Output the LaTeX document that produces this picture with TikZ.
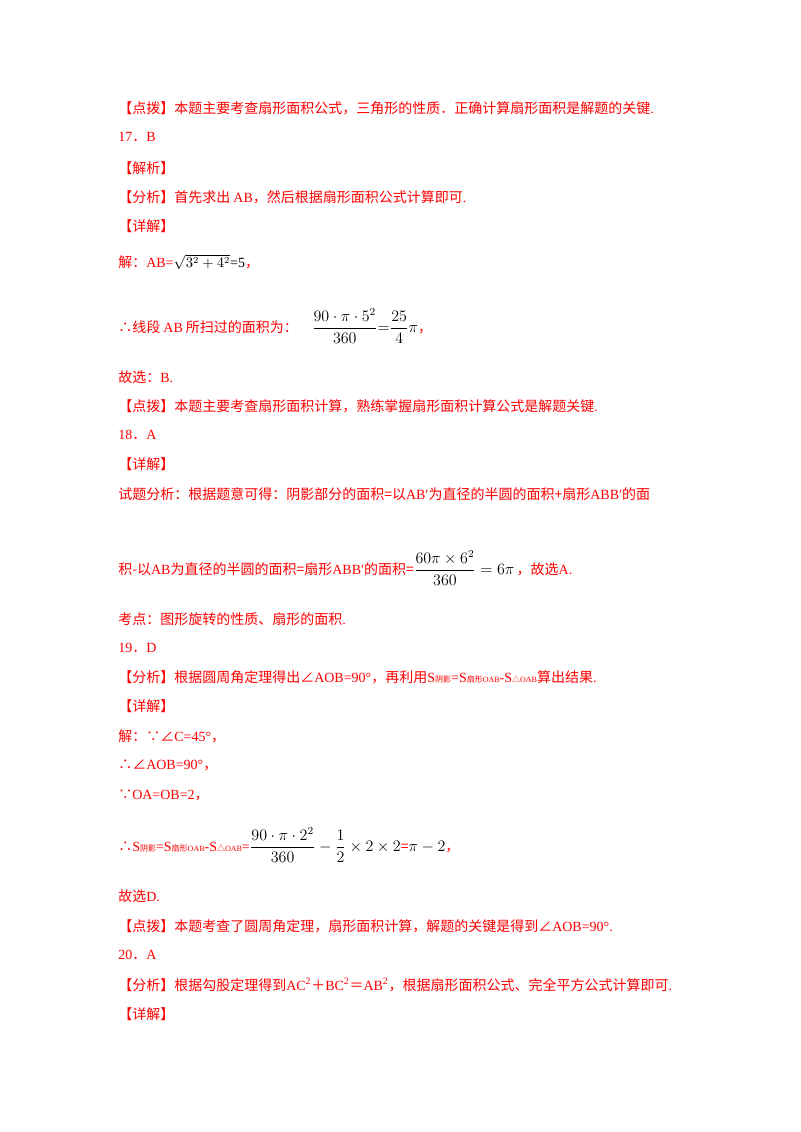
\documentclass[tikz,border=0pt]{standalone}
\usepackage{amsmath}
\usepackage{fontspec}
\setmainfont{Liberation Serif}
\newfontfamily\cjk{Noto Sans CJK SC}
\newfontfamily\lat{Liberation Serif}
\newcommand{\La}[1]{{\lat #1}}
\newcommand{\sm}[1]{{\fontsize{6}{7}\selectfont #1}}
\begin{document}
\begin{tikzpicture}[x=0.75pt,y=-0.75pt,
  txt/.style={anchor=west,inner sep=0pt,text=red,font=\cjk\fontsize{10.5}{12}\selectfont},
  fm/.style={text=black}]
\useasboundingbox (0,0) rectangle (800,1132);
\node[txt] (l1) at (118,108) {【点拨】本题主要考查扇形面积公式，三角形的性质．正确计算扇形面积是解题的关键\La{.}};
\node[txt] (l2) at (118,137) {\La{17}．\La{B}};
\node[txt] (l3) at (118,168) {【解析】};
\node[txt] (l4) at (118,197) {【分析】首先求出 \La{AB}，然后根据扇形面积公式计算即可\La{.}};
\node[txt] (l5) at (118,226) {【详解】};
\node[txt] (l6) at (118,262) {解：\La{AB=}\textcolor{black}{$\sqrt{3^2+4^2}$\La{=5}}，};
\node[txt] (l7) at (118,326) {∴线段 \La{AB} 所扫过的面积为：\quad\textcolor{black}{\fontsize{12}{14}\selectfont$\dfrac{90\cdot\pi\cdot5^2}{360}{=}\dfrac{25}{4}\pi$}，};
\node[txt] (l8) at (118,377) {故选：\La{B.}};
\node[txt] (l9) at (118,406) {【点拨】本题主要考查扇形面积计算，熟练掌握扇形面积计算公式是解题关键\La{.}};
\node[txt] (l10) at (118,435) {\La{18}．\La{A}};
\node[txt] (l11) at (118,464) {【详解】};
\node[txt] (l12) at (118,494) {试题分析：根据题意可得：阴影部分的面积=以\La{AB′}为直径的半圆的面积+扇形\La{ABB′}的面};
\node[txt] (l13) at (118,568) {积-以\La{AB}为直径的半圆的面积=扇形\La{ABB′}的面积=\textcolor{black}{\fontsize{12}{14}\selectfont$\dfrac{60\pi\times6^2}{360}=6\pi$}\,，故选\La{A.}};
\node[txt] (l14) at (118,619) {考点：图形旋转的性质、扇形的面积\La{.}};
\node[txt] (l15) at (118,648) {\La{19}．\La{D}};
\node[txt] (l16) at (118,677) {【分析】根据圆周角定理得出∠\La{AOB=90°}，再利用\La{S}\sm{阴影}\La{=S}\sm{扇形\La{OAB}}\La{-S}\sm{△\La{OAB}}算出结果\La{.}};
\node[txt] (l17) at (118,706) {【详解】};
\node[txt] (l18) at (118,736) {解：∵∠\La{C=45°}，};
\node[txt] (l19) at (118,765) {∴∠\La{AOB=90°}，};
\node[txt] (l20) at (118,795) {∵\La{OA=OB=2}，};
\node[txt] (l21) at (118,845) {∴\La{S}\sm{阴影}\La{=S}\sm{扇形\La{OAB}}\La{-S}\sm{△\La{OAB}}\La{=}\textcolor{black}{\fontsize{12}{14}\selectfont$\dfrac{90\cdot\pi\cdot2^2}{360}-\dfrac{1}{2}\times2\times2$}{=}\textcolor{black}{\fontsize{12}{14}\selectfont$\pi-2$}，};
\node[txt] (l22) at (118,896) {故选\La{D.}};
\node[txt] (l23) at (118,926) {【点拨】本题考查了圆周角定理，扇形面积计算，解题的关键是得到∠\La{AOB=90°.}};
\node[txt] (l24) at (118,955) {\La{20}．\La{A}};
\node[txt] (l25) at (118,985) {【分析】根据勾股定理得到\La{AC\textsuperscript{2}}＋\La{BC\textsuperscript{2}}＝\La{AB\textsuperscript{2}}，根据扇形面积公式、完全平方公式计算即可\La{.}};
\node[txt] (l26) at (118,1014) {【详解】};
\end{tikzpicture}
\end{document}
